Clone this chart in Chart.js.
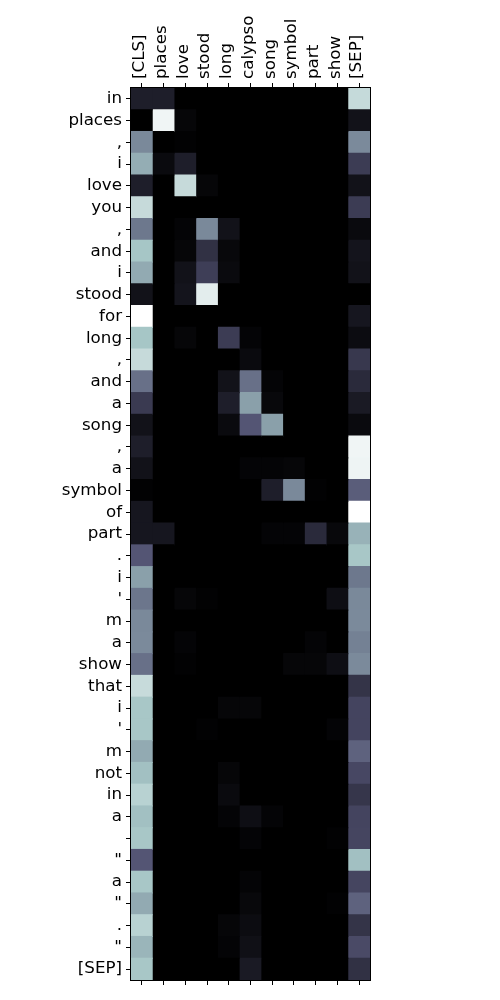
<!DOCTYPE html>
<html>
<head>
<meta charset="utf-8">
<script src="https://cdn.jsdelivr.net/npm/chart.js@4/dist/chart.umd.min.js"></script>
<style>
  html, body { margin: 0; padding: 0; background: #fff; }
  #wrap { width: 500px; height: 1000px; }
</style>
</head>
<body>
<div id="wrap"><canvas id="chart" width="500" height="1000"></canvas></div>
<script>
// column tokens (top axis)
const colLabels = ['[CLS]', 'places', 'love', 'stood', 'long', 'calypso', 'song', 'symbol', 'part', 'show', '[SEP]'];

// row tokens (left axis)
const rowLabels = ['in', 'places', ',', 'i', 'love', 'you', ',', 'and', 'i', 'stood', 'for', 'long', ',', 'and', 'a',
    'song', ',', 'a', 'symbol', 'of', 'part', '.', 'i', "'", 'm', 'a', 'show', 'that', 'i', "'", 'm', 'not', 'in', 'a',
    ' ', '"', 'a', '"', '.', '"', '[SEP]'];

// attention weights, one row per row token (normalised 0..1)
const attention = [
    [0.135, 0.135, 0, 0, 0, 0, 0, 0, 0, 0, 0.835],
    [0, 0.957, 0.027, 0, 0, 0, 0, 0, 0, 0, 0.08],
    [0.547, 0, 0.01, 0, 0, 0, 0, 0, 0, 0, 0.55],
    [0.664, 0.045, 0.135, 0, 0, 0, 0, 0, 0, 0, 0.27],
    [0.135, 0, 0.836, 0.027, 0, 0, 0, 0, 0, 0, 0.08],
    [0.836, 0, 0, 0, 0, 0, 0, 0, 0, 0, 0.27],
    [0.49, 0, 0.018, 0.547, 0.08, 0, 0, 0, 0, 0, 0.045],
    [0.745, 0, 0.027, 0.22, 0.036, 0, 0, 0, 0, 0, 0.09],
    [0.655, 0, 0.08, 0.28, 0.045, 0, 0, 0, 0, 0, 0.08],
    [0.08, 0, 0.09, 0.92, 0, 0, 0, 0, 0, 0, 0],
    [1.0, 0, 0, 0, 0, 0, 0, 0, 0, 0, 0.1],
    [0.745, 0, 0.027, 0, 0.27, 0.018, 0, 0, 0, 0, 0.054],
    [0.836, 0, 0, 0, 0, 0.045, 0, 0, 0, 0, 0.25],
    [0.466, 0, 0, 0, 0.08, 0.466, 0.018, 0, 0, 0, 0.19],
    [0.26, 0, 0, 0, 0.135, 0.62, 0.036, 0, 0, 0, 0.117],
    [0.08, 0, 0, 0, 0.045, 0.377, 0.62, 0, 0, 0, 0.045],
    [0.135, 0, 0, 0, 0, 0, 0, 0, 0, 0, 0.957],
    [0.08, 0, 0, 0, 0, 0.018, 0.018, 0.027, 0, 0, 0.95],
    [0.01, 0, 0, 0, 0, 0, 0.135, 0.547, 0.01, 0, 0.404],
    [0.1, 0, 0, 0, 0, 0, 0, 0, 0, 0, 1.0],
    [0.1, 0.1, 0, 0, 0, 0, 0.018, 0.018, 0.19, 0.036, 0.68],
    [0.377, 0, 0, 0, 0, 0, 0, 0, 0, 0, 0.75],
    [0.62, 0, 0, 0, 0, 0, 0, 0, 0, 0, 0.49],
    [0.484, 0, 0.027, 0.01, 0, 0, 0, 0, 0, 0.063, 0.547],
    [0.547, 0, 0, 0, 0, 0, 0, 0, 0, 0, 0.55],
    [0.55, 0, 0.018, 0, 0, 0, 0, 0, 0.018, 0, 0.52],
    [0.466, 0, 0.01, 0, 0, 0, 0, 0.027, 0.027, 0.063, 0.55],
    [0.84, 0, 0, 0, 0, 0, 0, 0, 0, 0, 0.233],
    [0.75, 0, 0, 0, 0.027, 0.027, 0, 0, 0, 0, 0.305],
    [0.75, 0, 0, 0.01, 0, 0, 0, 0, 0, 0.018, 0.305],
    [0.655, 0, 0, 0, 0, 0, 0, 0, 0, 0, 0.42],
    [0.726, 0, 0, 0, 0.027, 0, 0, 0, 0, 0, 0.32],
    [0.797, 0, 0, 0, 0.045, 0, 0, 0, 0, 0, 0.24],
    [0.726, 0, 0, 0, 0.018, 0.063, 0.018, 0, 0, 0, 0.305],
    [0.75, 0, 0, 0, 0, 0.018, 0, 0, 0, 0.01, 0.31],
    [0.377, 0, 0, 0, 0, 0, 0, 0, 0, 0, 0.726],
    [0.75, 0, 0, 0, 0, 0.018, 0, 0, 0, 0, 0.31],
    [0.655, 0, 0, 0, 0, 0.036, 0, 0, 0, 0.01, 0.42],
    [0.797, 0, 0, 0, 0.027, 0.054, 0, 0, 0, 0, 0.233],
    [0.69, 0, 0, 0, 0.018, 0.072, 0, 0, 0, 0, 0.33],
    [0.75, 0, 0, 0, 0, 0.117, 0, 0, 0, 0, 0.22]
];

// matplotlib "bone" colormap
const boneR = [[0, 0], [0.746032, 0.652778], [1, 1]];
const boneG = [[0, 0], [0.365079, 0.319444], [0.746032, 0.777778], [1, 1]];
const boneB = [[0, 0], [0.365079, 0.444444], [1, 1]];

function segment(pts, t) {
    for (let i = 1; i < pts.length; i++) {
        if (t <= pts[i][0]) {
            const f = (t - pts[i - 1][0]) / (pts[i][0] - pts[i - 1][0]);
            return pts[i - 1][1] + f * (pts[i][1] - pts[i - 1][1]);
        }
    }
    return pts[pts.length - 1][1];
}

function bone(t) {
    t = Math.max(0, Math.min(1, t));
    const r = Math.round(segment(boneR, t) * 255);
    const g = Math.round(segment(boneG, t) * 255);
    const b = Math.round(segment(boneB, t) * 255);
    return 'rgb(' + r + ',' + g + ',' + b + ')';
}

// each column is a bar from 0 to its right edge; the earlier columns are drawn
// on top of the later ones, so the cells join without seams
const datasets = colLabels.map(function (name, c) {
    return {
        label: name,
        data: rowLabels.map(function () { return c + 1; }),
        backgroundColor: attention.map(function (row) { return bone(row[c]); }),
        borderWidth: 0,
        grouped: false,
        barPercentage: 1.05,
        categoryPercentage: 1
    };
});

const frame = {
    id: 'frame',
    afterDatasetsDraw: function (chart) {
        const a = chart.chartArea;
        const ctx = chart.ctx;
        ctx.save();
        ctx.strokeStyle = '#000';
        ctx.lineWidth = 1;
        ctx.strokeRect(Math.round(a.left) - 0.5, Math.round(a.top) - 0.5,
            Math.round(a.right - a.left) + 1, Math.round(a.bottom - a.top) + 1);
        ctx.restore();
    }
};

const tickFont = { family: 'DejaVu Sans', size: 16.7 };
const colTicks = function (scale) {
    scale.ticks = colLabels.map(function (_, i) { return { value: i + 0.5 }; });
};

new Chart(document.getElementById('chart').getContext('2d'), {
    type: 'bar',
    data: { labels: rowLabels, datasets: datasets },
    options: {
        indexAxis: 'y',
        responsive: false,
        animation: false,
        layout: { padding: { left: 0, right: 130, top: 0, bottom: 0 } },
        plugins: { legend: { display: false }, tooltip: { enabled: false } },
        scales: {
            x: {
                type: 'linear',
                position: 'top',
                min: 0,
                max: 11,
                afterBuildTicks: colTicks,
                afterFit: function (scale) { scale.height = 88; },
                grid: { drawOnChartArea: false, drawTicks: true, tickLength: 5, color: '#000' },
                border: { display: false },
                ticks: {
                    autoSkip: false,
                    minRotation: 90,
                    maxRotation: 90,
                    padding: 4,
                    labelOffset: 18,
                    color: '#000',
                    font: tickFont,
                    callback: function (v, i) { return colLabels[i]; }
                }
            },
            x2: {
                type: 'linear',
                position: 'bottom',
                min: 0,
                max: 11,
                afterBuildTicks: colTicks,
                afterFit: function (scale) { scale.height = 20; },
                grid: { drawOnChartArea: false, drawTicks: true, tickLength: 5, color: '#000' },
                border: { display: false },
                ticks: { display: false }
            },
            y: {
                type: 'category',
                position: 'left',
                afterFit: function (scale) { scale.width = 131; },
                grid: { drawOnChartArea: false, drawTicks: true, tickLength: 5, color: '#000', offset: false },
                border: { display: false },
                ticks: { autoSkip: false, padding: 4, color: '#000', font: tickFont }
            }
        }
    },
    plugins: [frame]
});
</script>
</body>
</html>
